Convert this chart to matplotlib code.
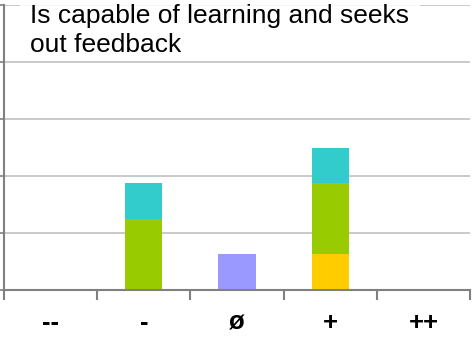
import matplotlib.pyplot as plt
from matplotlib.patches import Rectangle

categories = ["--", "-", "ø", "+", "++"]
yellow = [0, 0, 0, 12.5, 0]
purple = [0, 0, 12.5, 0, 0]
green = [0, 25, 0, 25, 0]
cyan = [0, 12.5, 0, 12.5, 0]
series = [(yellow, "#FFCC00"), (purple, "#9999FF"), (green, "#99CC00"), (cyan, "#33CCCC")]
y_ticks = [0, 20, 40, 60, 80, 100]
title_lines = ["Is capable of learning and seeks", "out feedback"]

W, H = 472, 338
fig = plt.figure(figsize=(W / 100, H / 100), dpi=100)
ax = fig.add_axes([4 / W, (H - 290) / H, 466 / W, 285 / H])

x = list(range(len(categories)))
bottom = [0] * len(categories)
for vals, col in series:
    ax.bar(x, vals, width=0.4, bottom=bottom, color=col, edgecolor="none", zorder=3)
    bottom = [b + v for b, v in zip(bottom, vals)]

ax.set_xlim(-0.5, len(categories) - 0.5)
ax.set_ylim(0, 100)
ax.set_yticks(y_ticks)
ax.set_yticklabels([])
ax.grid(axis="y", color="#C0C0C0", linewidth=1.2, zorder=0)

for s in ["top", "right"]:
    ax.spines[s].set_visible(False)
for s in ["left", "bottom"]:
    ax.spines[s].set_color("#808080")
    ax.spines[s].set_linewidth(1.5)
    ax.spines[s].set_zorder(4)

ax.set_xticks([i - 0.5 for i in range(len(categories) + 1)])
ax.set_xticklabels([])
ax.tick_params(axis="x", direction="out", length=7, width=1.5, color="#808080")
ax.tick_params(axis="y", direction="out", length=3, width=1.2, color="#808080")
for i, c in enumerate(categories):
    ax.text(i, -11.5, c, ha="center", va="center", fontsize=18.5, fontweight="bold",
            family="Liberation Sans", transform=ax.transData, clip_on=False)

# white box behind the title
fig.patches.append(Rectangle((20 / W, (H - 61) / H), 400 / W, 61 / H,
                             transform=fig.transFigure, facecolor="white",
                             edgecolor="none", alpha=0.85, zorder=5))
for line, base in zip(title_lines, [23, 52]):
    fig.text(30 / W, (H - base) / H, line, ha="left", va="baseline",
             fontsize=19, family="Liberation Sans", zorder=6)

fig.savefig("out.png", dpi=100)
